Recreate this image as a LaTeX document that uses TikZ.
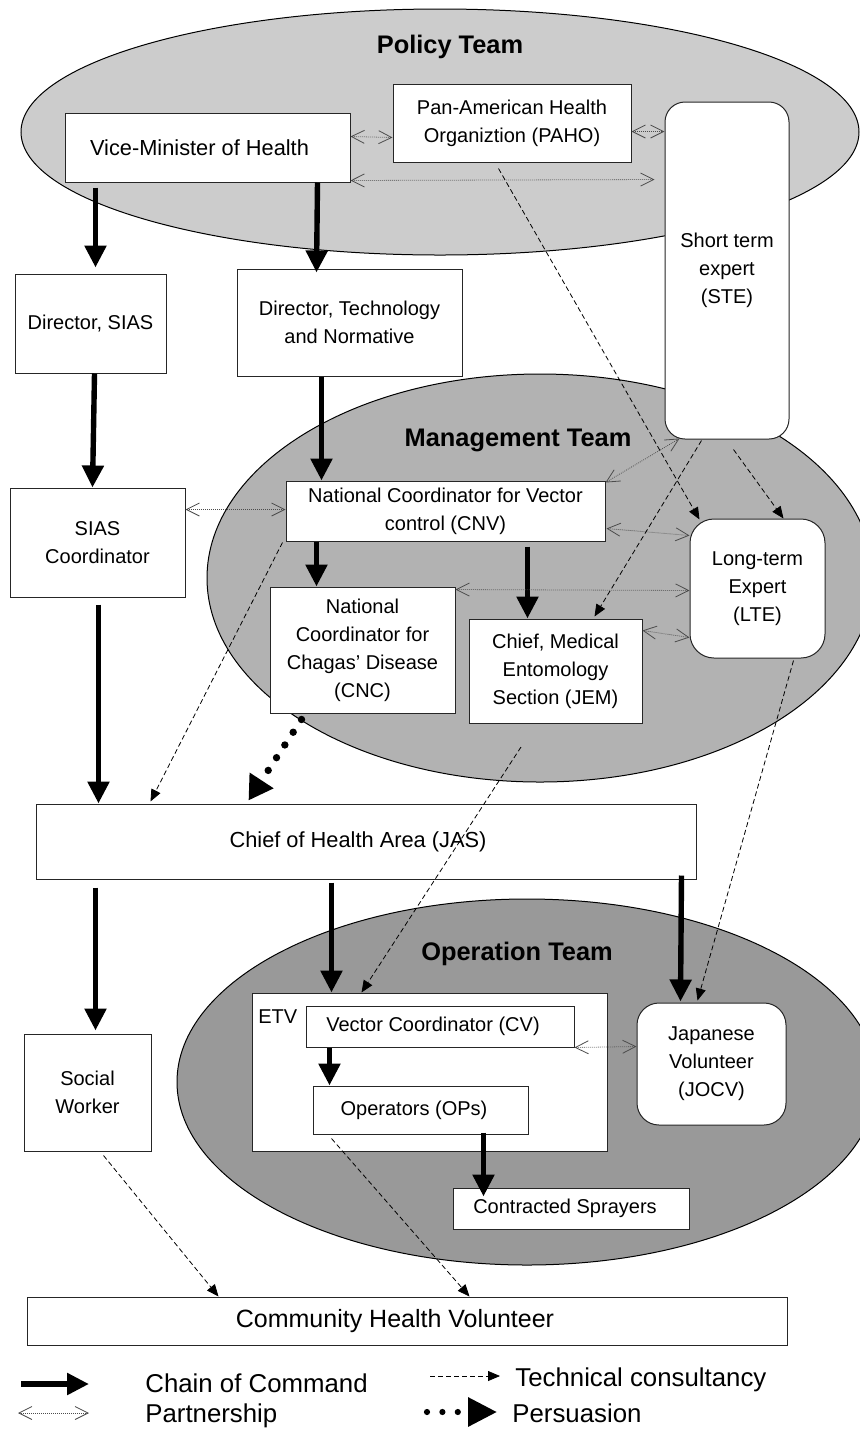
\documentclass[tikz,border=0pt]{standalone}
\usepackage{fontspec}
\setmainfont{Liberation Sans}
\usetikzlibrary{arrows.meta}
\definecolor{policyfill}{gray}{0.80}
\definecolor{mgmtfill}{gray}{0.70}
\definecolor{opfill}{gray}{0.60}
\newcommand\bxfont{\fontsize{10}{14}\selectfont}
\newcommand\bxbigfont{\fontsize{10.9}{14}\selectfont}
\newcommand\cmfont{\fontsize{12.5}{14}\selectfont}
\newcommand\lgfont{\fontsize{12.9}{15}\selectfont}
\newcommand\tmfont{\fontsize{12.7}{15}\selectfont\bfseries}
\tikzset{
  box/.style={draw=black!85, line width=0.5pt, fill=white, inner sep=0pt, align=center, font=\bxfont},
  rbox/.style={box},
  team/.style={font=\tmfont, inner sep=0pt, anchor=base},
  legtext/.style={font=\lgfont, inner sep=0pt, anchor=base west},
  teamarea/.style={draw=black, line width=0.5pt},
  chain/.style={line width=2.7pt, -{Triangle[length=11pt,width=10.5pt]}},
  partner/.style={black!70, line width=0.4pt, dash pattern=on 0.4pt off 0.6pt,
    {Straight Barb[length=6.5pt,width=6.5pt]}-{Straight Barb[length=6.5pt,width=6.5pt]}},
  tech/.style={black, line width=0.4pt, dash pattern=on 2.5pt off 1.5pt,
    -{Triangle[length=6pt,width=5pt]}},
  persuade/.style={line width=3.7pt, line cap=round, dash pattern=on 0pt off 7.6pt,
    -{Triangle[length=12pt,width=13.5pt]}},
  legpersuade/.style={line width=3.1pt, line cap=round, dash pattern=on 0pt off 7.7pt,
    -{Triangle[length=14.5pt,width=14pt]}}
}
\begin{document}
\begin{tikzpicture}[x=0.5pt,y=-0.5pt]
\useasboundingbox (0,0) rectangle (860,1432);
\clip (0,0) rectangle (860,1432);
\fill[white] (0,0) rectangle (860,1432);

% team areas
\draw[teamarea, fill=policyfill] (440,132) ellipse [x radius=419, y radius=123];
\draw[teamarea, fill=mgmtfill] (540,578) ellipse [x radius=333, y radius=204];
\draw[teamarea, fill=opfill] (527,1082) ellipse [x radius=350, y radius=183];

\node[team] (pt) at (450,53) {Policy Team};
\node[team] (mt) at (518,446) {Management Team};
\node[team] (ot) at (517,960) {Operation Team};

% boxes
\node[box, font=\bxbigfont, minimum width=142.5pt, minimum height=34.5pt] (vm) at (207.5,147.5) {Vice-Minister of Health\hspace*{8pt}};
\node[box, minimum width=119pt, minimum height=39pt] (paho) at (512,123) {Pan-American Health\\Organiztion (PAHO)};
\node[rbox, rounded corners=10pt, minimum width=62pt, minimum height=168.5pt] (ste) at (727,270.5) {Short term\\expert\\(STE)};
\node[box, minimum width=75.5pt, minimum height=49.5pt] (dsias) at (90.5,323.5) {Director, SIAS};
\node[box, minimum width=112.5pt, minimum height=53.5pt] (dtech) at (349.5,322.5) {Director, Technology\\and Normative};
\node[box, minimum width=87.5pt, minimum height=54.5pt] (siasc) at (97.5,542.5) {SIAS\\Coordinator};
\node[box, minimum width=159.5pt, minimum height=30pt] (cnv) at (445.5,511) {National Coordinator for Vector\\control (CNV)};
\node[box, minimum width=92.5pt, minimum height=63pt] (cnc) at (362.5,650) {National\\Coordinator for\\Chagas' Disease\\(CNC)};
\node[box, minimum width=86.5pt, minimum height=52pt] (jem) at (555.5,671) {Chief, Medical\\Entomology\\Section (JEM)};
\node[rbox, rounded corners=12pt, minimum width=67.5pt, minimum height=69.5pt] (lte) at (757.5,588.5) {Long-term\\Expert\\(LTE)};
\node[box, font=\bxbigfont, minimum width=330pt, minimum height=37.5pt] (jas) at (366,841.5) {Chief of Health Area (JAS)\hspace*{8pt}};
\node[box, minimum width=63.5pt, minimum height=58.5pt] (sw) at (87.5,1092.5) {Social\\Worker};
\node[box, minimum width=177.5pt, minimum height=79pt] (etv) at (429.5,1072) {};
\node[font=\bxfont, inner sep=0pt, anchor=west] (etvlabel) at (258,1017) {ETV};
\node[box, minimum width=134pt, minimum height=20.5pt] (cv) at (440,1026.5) {Vector Coordinator (CV)\hspace*{7pt}};
\node[box, minimum width=107.5pt, minimum height=24pt] (ops) at (420.5,1110) {Operators (OPs)\hspace*{6.5pt}};
\node[box, minimum width=118pt, minimum height=20.5pt] (cs) at (571,1208.5) {Contracted Sprayers\hspace*{6pt}};
\node[rbox, rounded corners=11pt, minimum width=74.5pt, minimum height=61pt] (jocv) at (711.5,1064) {Japanese\\Volunteer\\(JOCV)};
\node[box, minimum width=380pt, minimum height=24pt, font=\cmfont] (chv) at (407,1321) {Community Health Volunteer\hspace*{12pt}};

% chain of command
\draw[chain] ([shift={(31,5)}]vm.south west) -- ([shift={(81,-6)}]dsias.north west);
\draw[chain] ([shift={(-33,0)}]vm.south east) -- ([shift={(80,4)}]dtech.north west);
\draw[chain] ([shift={(80,0)}]dsias.south west) -- ([shift={(83,0)}]siasc.north west);
\draw[chain] ([shift={(85,0)}]dtech.south west) -- ([shift={(36,0)}]cnv.north west);
\draw[chain] ([shift={(31,0)}]cnv.south west) -- ([shift={(47,0)}]cnc.north west);
\draw[chain] ([shift={(242,5)}]cnv.south west) -- ([shift={(59,0)}]jem.north west);
\draw[chain] ([shift={(89,7)}]siasc.south west) -- ([shift={(63,0)}]jas.north west);
\draw[chain] ([shift={(60,8)}]jas.south west) -- ([shift={(72,-3)}]sw.north west);
\draw[chain] ([shift={(296,3)}]jas.south west) -- ([shift={(80,0)}]etv.north west);
\draw[chain] ([shift={(-15,-4)}]jas.south east) -- ([shift={(44,-1)}]jocv.north west);
\draw[chain] ([shift={(24,0)}]cv.south west) -- ([shift={(17,0)}]ops.north west);
\draw[chain] ([shift={(171,-2)}]ops.south west) -- ([shift={(31,9)}]cs.north west);

% partnership
\draw[partner] ([shift={(0,24)}]vm.north east) -- ([shift={(0,-25)}]paho.south west);
\draw[partner] ([shift={(0,48)}]paho.north east) -- ([shift={(0,30)}]ste.north west);
\draw[partner] ([shift={(0,-2)}]vm.south east) -- ([shift={(-10,78)}]ste.north west);
\draw[partner] ([shift={(0,22)}]siasc.north east) -- ([shift={(0,29)}]cnv.north west);
\draw[partner] ([shift={(15,-1)}]ste.south west) -- ([shift={(0,2)}]cnv.north east);
\draw[partner] ([shift={(1,48)}]cnv.north east) -- ([shift={(0,17)}]lte.north west);
\draw[partner] ([shift={(0,3)}]cnc.north east) -- ([shift={(0,72)}]lte.north west);
\draw[partner] ([shift={(0,12)}]jem.north east) -- ([shift={(0,119)}]lte.north west);
\draw[partner] (cv.south east) -- ([shift={(0,44)}]jocv.north west);

% technical consultancy
\coordinate (t5s) at (521,747);
\draw[tech] ([shift={(106,6)}]paho.south west) -- ([shift={(10,1)}]lte.north west);
\draw[tech] ([shift={(37,1)}]ste.south west) -- ([shift={(-48,-2)}]jem.north east);
\draw[tech] ([shift={(69,10)}]ste.south west) -- ([shift={(-42,0)}]lte.north east);
\draw[tech] ([shift={(-3,1)}]cnv.south west) -- ([shift={(115,-2)}]jas.north west);
\draw[tech] (t5s) -- ([shift={(110,0)}]etv.north west);
\draw[tech] ([shift={(-32,2)}]lte.south east) -- ([shift={(61,-2)}]jocv.north west);
\draw[tech] ([shift={(80,4)}]sw.south west) -- ([shift={(192,0)}]chv.north west);
\draw[tech] ([shift={(19,4)}]ops.south west) -- ([shift={(443,0)}]chv.north west);

% persuasion
\draw[persuade] ([shift={(32,6)}]cnc.south west) -- ([shift={(213,-3)}]jas.north west);

% legend
\coordinate (lca) at (21,1384);  \coordinate (lcb) at (89,1384);
\coordinate (lpa) at (18,1413);  \coordinate (lpb) at (89,1413);
\coordinate (lta) at (430,1376); \coordinate (ltb) at (500,1376);
\coordinate (lsa) at (427,1412); \coordinate (lsb) at (497,1412);
\draw[chain] (lca) -- (lcb);
\draw[partner] (lpa) -- (lpb);
\draw[tech] (lta) -- (ltb);
\draw[legpersuade] (lsa) -- (lsb);
\node[legtext] (lgc) at (145,1392) {Chain of Command};
\node[legtext] (lgp) at (145,1422) {Partnership};
\node[legtext] (lgt) at (515,1386) {Technical consultancy};
\node[legtext] (lgs) at (512,1422) {Persuasion};
\end{tikzpicture}
\end{document}
